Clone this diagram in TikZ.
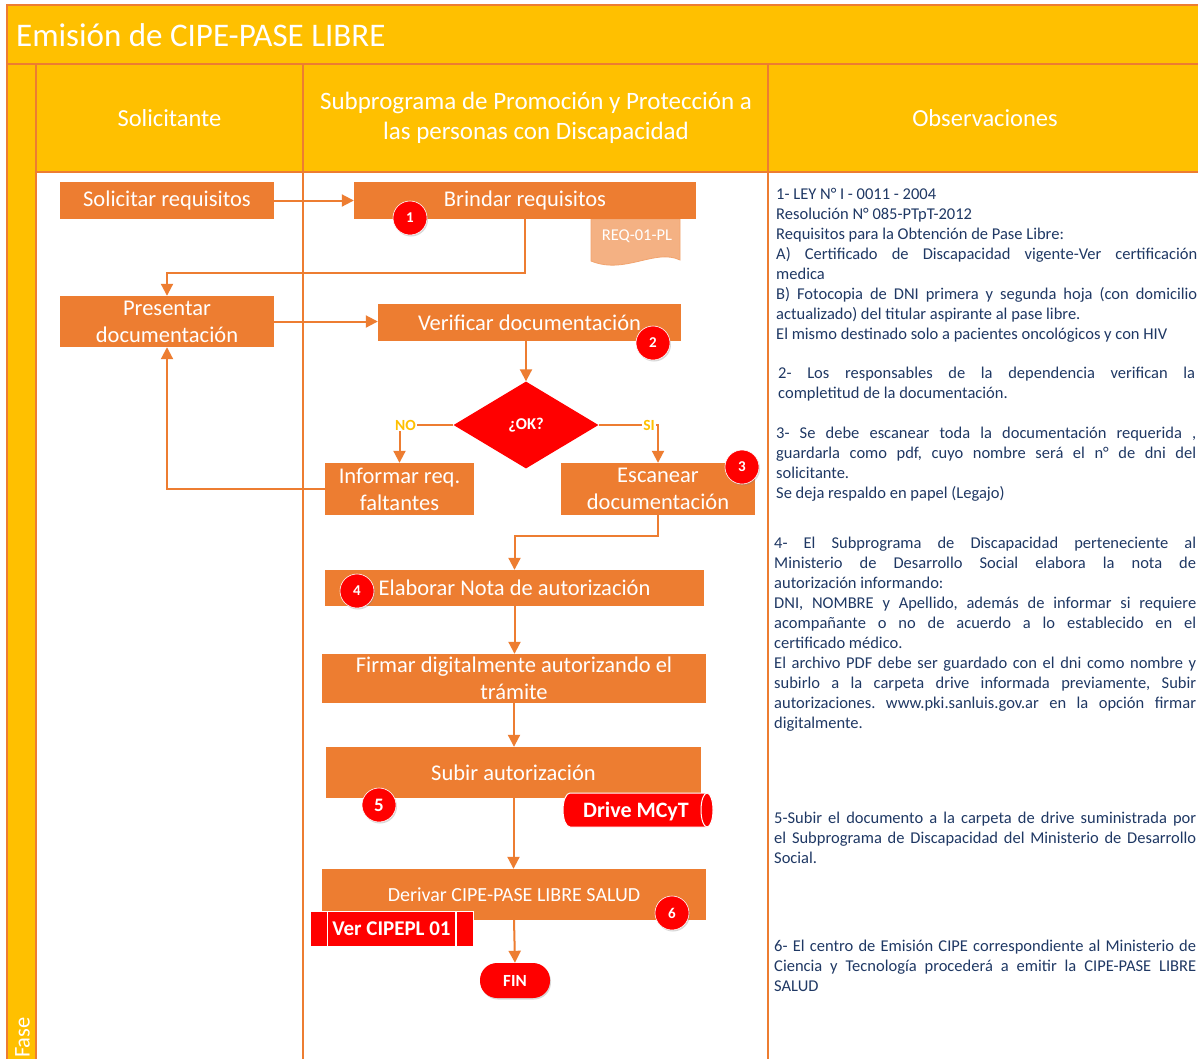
\documentclass[tikz,border=0pt]{standalone}
\usepackage{fontspec}
\setmainfont{Carlito}
\usetikzlibrary{arrows.meta,shapes.geometric,shadows,calc}
\definecolor{yel}{HTML}{FFC000}
\definecolor{org}{HTML}{ED7D31}
\definecolor{rd}{HTML}{FF0000}
\definecolor{docf}{HTML}{F4B183}
\definecolor{navy}{HTML}{1F3864}
\frenchspacing
\begin{document}
\begin{tikzpicture}[x=1pt,y=-1pt,
 proc/.style={fill=org, text=white, draw=none, align=center, inner sep=0pt, font=\fontsize{22.5}{27}\selectfont},
 badge/.style={circle, fill=rd, draw=white, line width=0.6pt, minimum size=34pt, inner sep=0pt, text=white, font=\fontsize{15}{18}\selectfont\bfseries, drop shadow={opacity=0.3, shadow xshift=1pt, shadow yshift=-1.5pt}},
 conn/.style={draw=org, line width=2pt, -{Triangle[length=12pt,width=12pt]}},
 obs/.style={anchor=base west, inner sep=0pt, text width=#1, align=justify, text=navy, font=\fontsize{16.5}{20.1}\selectfont},
 hdr/.style={text=white, align=center, font=\fontsize{24.5}{30}\selectfont},
 lbl/.style={text=yel, font=\fontsize{15.5}{18}\selectfont\bfseries, fill=white, inner sep=1pt},
 redtxt/.style={text=white, inner sep=0pt, font=\bfseries},
 lane/.style={draw=org, line width=2pt},
]
\useasboundingbox (0,0) rectangle (1198,1058);
% swimlane frame
\fill[white] (0,0) rectangle (1198,1058);
\fill[yel] (7,5) rectangle (1205,64);
\fill[yel] (36,64) rectangle (1205,172);
\fill[yel] (7,64) rectangle (36,1065);
\draw[lane] (7,5) rectangle (1205,1065);
\draw[lane] (7,64) -- (1205,64);
\draw[lane] (36,172) -- (1205,172);
\draw[lane] (36,64) -- (36,1065);
\draw[lane] (303,64) -- (303,1065);
\draw[lane] (768,64) -- (768,1065);
\node[anchor=base west, inner sep=0pt, text=white, font=\fontsize{33}{40}\selectfont] (title) at (16,46) {Emisión de CIPE-PASE LIBRE};
\node[hdr] (h1) at (169.5,118) {Solicitante};
\node[hdr, font=\fontsize{25}{30}\selectfont] (h2) at (536,118) {Subprograma de Promoción y Protección a\\las personas con Discapacidad};
\node[hdr] (h3) at (985,118) {Observaciones};
\node[rotate=90, text=white, inner sep=0pt, font=\fontsize{22.5}{27}\selectfont] (fase) at (22.5,1037.5) {Fase};

% document shape
\filldraw[fill=docf, draw=org!70, line width=0.8pt] (591,219) -- (680,219) -- (680,260) .. controls (655,248) and (625,275) .. (591,261) -- cycle;
\node[text=white, inner sep=0pt, font=\fontsize{16.5}{20}\selectfont] (req) at (637,236) {REQ-01-PL};

% process boxes
\node[proc, minimum width=214pt, minimum height=37pt] (sol) at (167,200.5) {Solicitar requisitos};
\node[proc, minimum width=342pt, minimum height=37pt] (brin) at (525,200.5) {Brindar requisitos};
\node[proc, minimum width=214pt, minimum height=51pt] (pres) at (167,321.5) {Presentar\\documentación};
\node[proc, minimum width=303pt, minimum height=37pt] (ver) at (529.5,322.5) {Verificar documentación};
\node[diamond, fill=rd, aspect=1.67, minimum width=145pt, minimum height=87pt, inner sep=0pt, text=white, font=\fontsize{16.5}{20}\selectfont\bfseries] (dia) at (526,425) {¿OK?};
\node[proc, minimum width=149pt, minimum height=52pt] (inf) at (399.5,489) {Informar req.\\faltantes};
\node[proc, minimum width=194pt, minimum height=52pt] (esc) at (658,489) {Escanear\\documentación};
\node[proc, minimum width=379pt, minimum height=36pt] (ela) at (514.5,588) {Elaborar Nota de autorización};
\node[proc, minimum width=384pt, minimum height=49pt] (fir) at (514,678.5) {Firmar digitalmente autorizando el\\trámite};
\node[proc, minimum width=375pt, minimum height=51pt] (sub) at (513.5,772.5) {Subir autorización};
\node[proc, minimum width=384pt, minimum height=51pt, font=\fontsize{20}{24}\selectfont] (der) at (514,894.5) {Derivar CIPE-PASE LIBRE SALUD};
\node[fill=rd, rounded corners=17pt, minimum width=70pt, minimum height=35pt, inner sep=0pt, text=white, font=\fontsize{17}{20}\selectfont\bfseries, drop shadow={opacity=0.3, shadow xshift=1pt, shadow yshift=-1.5pt}] (fin) at (515,980.5) {FIN};

% Drive MCyT (stored data)
\filldraw[fill=rd, draw=white, line width=1pt] (570,793) -- (707,793) arc[start angle=-90, end angle=90, x radius=6, y radius=17] -- (570,827) arc[start angle=90, end angle=270, x radius=7, y radius=17] -- cycle;
\draw[white, line width=1pt] (707,793) arc[start angle=-90, end angle=-270, x radius=6, y radius=17];
\node[redtxt, font=\fontsize{22}{26}\selectfont\bfseries] (drive) at (636,811) {Drive MCyT};

% Ver CIPEPL 01 (predefined process)
\filldraw[fill=rd, draw=white, line width=1pt] (310,911) rectangle (473,946);
\draw[white, line width=1.5pt] (327.5,911) -- (327.5,946) (456,911) -- (456,946);
\node[redtxt, font=\fontsize{21}{25}\selectfont\bfseries] (vercipe) at (391.5,929) {Ver CIPEPL 01};

% connectors
\draw[conn] (sol.east) -- (brin.west);
\draw[conn] (brin.south) |- ($(pres.north)+(0,-23)$) -- (pres.north);
\draw[conn] (pres.east) -- (pres.east -| ver.west);
\draw[conn] (ver.south -| dia.north) -- (dia.north);
\draw[conn] (dia.west) -| node[lbl, pos=0.5, xshift=6pt] {NO} (inf.north);
\draw[conn] (dia.east) -| node[lbl, pos=0.5, xshift=-9pt] {SI} (esc.north);
\draw[conn] (inf.west) -| (pres.south);
\draw[conn] (esc.south) |- ($(ela.north)+(0,-34)$) -- (ela.north);
\draw[conn] (ela.south) -- (ela.south |- fir.north);
\draw[conn] (fir.south) -- (fir.south |- sub.north);
\draw[conn] (sub.south) -- (sub.south |- der.north);
\draw[conn] (der.south) -- (fin.north);

% badges
\node[badge] (b1) at (410,218) {1};
\node[badge] (b2) at (653,343) {2};
\node[badge] (b3) at (742,467) {3};
\node[badge] (b4) at (357,591) {4};
\node[badge, font=\fontsize{19}{22}\selectfont\bfseries] (b5) at (379,805) {5};
\node[badge] (b6) at (672,913) {6};

% observations
\node[obs=421pt] (o1) at (776,199) {1- LEY N° I - 0011 - 2004\\
Resolución N° 085-PTpT-2012\\
Requisitos para la Obtención de Pase Libre:\\
A) Certificado de Discapacidad vigente-Ver certificación\linebreak medica\\
B) Fotocopia de DNI primera y segunda hoja (con domicilio\linebreak actualizado) del titular aspirante al pase libre.\\
El mismo destinado solo a pacientes oncológicos y con HIV};
\node[obs=417pt] (o2) at (778,378) {2- Los responsables de la dependencia verifican la\linebreak completitud de la documentación.};
\node[obs=420pt] (o3) at (776,438) {3- Se debe escanear toda la documentación requerida ,\linebreak guardarla como pdf, cuyo nombre será el n° de dni del\linebreak solicitante.\\
Se deja respaldo en papel (Legajo)};
\node[obs=422pt] (o4) at (774,548) {4- El Subprograma de Discapacidad perteneciente al\linebreak Ministerio de Desarrollo Social elabora la nota de\linebreak autorización informando:\\
DNI, NOMBRE y Apellido, además de informar si requiere\linebreak acompañante o no de acuerdo a lo establecido en el\linebreak certificado médico.\\
El archivo PDF debe ser guardado con el dni como nombre y\linebreak subirlo a la carpeta drive informada previamente, Subir\linebreak autorizaciones. www.pki.sanluis.gov.ar en la opción firmar\linebreak digitalmente.};
\node[obs=422pt] (o5) at (774,823) {5-Subir el documento a la carpeta de drive suministrada por\linebreak el Subprograma de Discapacidad del Ministerio de Desarrollo\linebreak Social.};
\node[obs=422pt] (o6) at (774,951) {6- El centro de Emisión CIPE correspondiente al Ministerio de\linebreak Ciencia y Tecnología procederá a emitir la CIPE-PASE LIBRE\linebreak SALUD};
\end{tikzpicture}
\end{document}
